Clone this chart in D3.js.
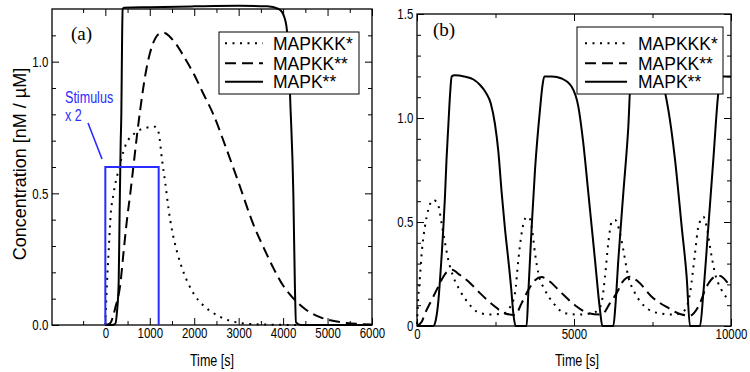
<!DOCTYPE html>
<html>
<head>
<meta charset="utf-8">
<script src="https://cdn.jsdelivr.net/npm/d3@7"></script>
<style>
  body { margin: 0; background: #fff; }
  svg { display: block; }
  .tick text { font-family: 'Liberation Sans', Arial, sans-serif; font-size: 15.5px; fill: #000; }
  .tick line { stroke: #000; stroke-width: 1; }
</style>
</head>
<body>
<svg id="chart" width="750" height="372"></svg>
<script>
'use strict'

const seriesNames = ['MAPKKK*', 'MAPKK**', 'MAPK**']

// panel (a): transient stimulus x 2, time [s] vs concentration
const aMapkkk = [[0,0],[37,0.16],[75,0.28],[112,0.40],[187,0.50],[300,0.59],[450,0.68],[675,0.73],[900,0.748],[1120,0.753],
  [1200,0.73],[1273,0.63],[1348,0.54],[1423,0.44],[1500,0.36],[1610,0.28],[1760,0.20],[1985,0.12],[2200,0.075],[2435,0.045],
  [2700,0.022],[3030,0.008],[3500,0.002],[4500,0],[6000,0]]
const aMapkk = [[0,0],[100,0.005],[225,0.066],[337,0.155],[412,0.28],[487,0.40],[562,0.50],[637,0.61],[712,0.72],[787,0.82],
  [900,0.95],[1000,1.03],[1100,1.08],[1200,1.105],[1311,1.11],[1450,1.095],[1600,1.065],[1800,1.01],[2000,0.95],[2200,0.88],
  [2430,0.80],[2700,0.68],[3000,0.54],[3335,0.38],[3600,0.28],[3785,0.215],[4000,0.15],[4235,0.10],[4500,0.06],[4830,0.03],
  [5430,0.008],[6000,0.002]]
const aMapk = [[0,0],[150,0],[225,0.005],[262,0.05],[300,0.16],[322,0.43],[345,0.69],[360,0.8],[378,1.1],[390,1.2],
  [420,1.205],[1000,1.207],[2000,1.21],[3000,1.212],[3640,1.21],[3900,1.2],[3970,1.19],[4070,1.14],[4130,1.0],[4160,0.855],
  [4230,0.5],[4265,0.15],[4290,0.01],[4400,0],[6000,0]]
const stimulus = [[0,0],[0,0.6],[1200,0.6],[1200,0]]
const aXMajor = [0,1000,2000,3000,4000,5000,6000]
const aXMinor = [-500,500,1500,2500,3500,4500,5500]
const aYMajor = [0,0.5,1.0]
const aYMinor = [0.1,0.2,0.3,0.4,0.6,0.7,0.8,0.9,1.1]

// panel (b): sustained stimulus, oscillations
const bMapkkk = [[0,0.01],[42,0.14],[96,0.24],[149,0.35],[255,0.48],[361,0.56],[520,0.606],[600,0.6],[680,0.58],[786,0.49],
  [892,0.40],[998,0.317],[1157,0.237],[1369,0.17],[1635,0.11],[1900,0.07],[2325,0.055],[2750,0.06],[2962,0.09],[3121,0.158],
  [3227,0.317],[3333,0.447],[3493,0.525],[3580,0.52],[3652,0.477],[3758,0.35],[3864,0.254],[4076,0.173],[4342,0.11],[4713,0.062],
  [5138,0.055],[5563,0.062],[5775,0.077],[5900,0.13],[5987,0.237],[6093,0.40],[6200,0.5],[6306,0.51],[6465,0.447],[6571,0.365],
  [6730,0.237],[6943,0.158],[7261,0.093],[7686,0.062],[8217,0.055],[8535,0.077],[8694,0.158],[8854,0.35],[8960,0.477],[9119,0.525],
  [9225,0.477],[9331,0.38],[9490,0.254],[9700,0.173],[9968,0.12]]
const bMapkk = [[0,0],[150,0.02],[255,0.06],[467,0.125],[680,0.19],[838,0.237],[950,0.26],[1104,0.27],[1369,0.245],[1688,0.207],
  [2006,0.158],[2431,0.10],[2803,0.06],[3121,0.053],[3333,0.11],[3545,0.173],[3758,0.22],[3970,0.235],[4236,0.213],[4607,0.158],
  [5032,0.10],[5456,0.062],[5881,0.055],[6146,0.11],[6411,0.173],[6518,0.207],[6783,0.237],[7048,0.213],[7474,0.141],[8003,0.087],
  [8430,0.055],[8694,0.05],[8960,0.093],[9225,0.19],[9490,0.237],[9650,0.24],[9862,0.213],[9968,0.19]]
const bMapk = [[0,0],[520,0],[600,0.03],[680,0.12],[732,0.22],[790,0.35],[838,0.47],[890,0.62],[940,0.8],[1000,0.97],
  [1060,1.13],[1104,1.2],[1200,1.205],[1500,1.2],[1800,1.185],[2000,1.16],[2200,1.12],[2350,1.07],[2484,0.97],[2590,0.84],
  [2697,0.64],[2800,0.47],[2909,0.317],[3000,0.18],[3068,0.06],[3142,0],[3490,0],[3545,0.158],[3652,0.477],[3758,0.75],
  [3917,1.04],[4000,1.16],[4055,1.2],[4300,1.2],[4607,1.19],[4926,1.15],[5138,1.055],[5297,0.878],[5456,0.64],[5669,0.317],
  [5828,0.077],[5902,0],[6252,0],[6320,0.1],[6411,0.317],[6571,0.64],[6730,0.958],[6815,1.2],[7100,1.2],[7500,1.19],
  [7700,1.17],[7845,1.15],[8003,1.04],[8217,0.80],[8430,0.477],[8588,0.237],[8694,0],[9013,0],[9119,0.158],[9278,0.477],
  [9437,0.80],[9596,1.12],[9682,1.2],[10000,1.2]]
const bXMajor = [0,5000,10000]
const bXMinor = [2500,7500]
const bYMajor = [0,0.5,1.0,1.5]
const bYMinor = [0.1,0.2,0.3,0.4,0.6,0.7,0.8,0.9,1.1,1.2,1.3,1.4]

const dashes = ['2,5.5', '11,6', null]
const sansFont = "'Liberation Sans', Arial, sans-serif"
const narrow = 0.74  // condensed look of the original labels

const svg = d3.select('#chart')

// text squeezed horizontally around its anchor point
const narrowText = function(parent, x, y, size, str, color, anchor) {
  return parent.append('text')
    .attr('transform', `translate(${x},${y}) scale(${narrow},1)`)
    .attr('text-anchor', anchor || 'start')
    .attr('font-family', sansFont).attr('font-size', size)
    .attr('fill', color || '#000')
    .text(str)
}

const drawPanel = function(p) {
  const g = svg.append('g')
  const x = d3.scaleLinear().domain(p.xDomain).range([p.left, p.right])
  const y = d3.scaleLinear().domain(p.yDomain).range([p.bottom, p.top])
  const noText = () => ''

  const addAxis = function(axis, tr, vals, size, fmt, pad) {
    g.append('g')
      .attr('transform', tr)
      .call(axis.tickValues(vals).tickSize(size).tickPadding(pad || 3).tickFormat(fmt))
      .call(s => s.select('.domain').remove())
      .call(s => s.selectAll('.tick text').attr('transform', `scale(${narrow},1)`))
  }
  // inward ticks on all four sides
  addAxis(d3.axisBottom(x), `translate(0,${p.bottom})`, p.xMajor, -7, p.xFmt, 1.5)
  addAxis(d3.axisBottom(x), `translate(0,${p.bottom})`, p.xMinor, -4, noText)
  addAxis(d3.axisTop(x), `translate(0,${p.top})`, p.xMajor, -7, noText)
  addAxis(d3.axisTop(x), `translate(0,${p.top})`, p.xMinor, -4, noText)
  addAxis(d3.axisLeft(y), `translate(${p.left},0)`, p.yMajor, -7, p.yFmt, 5)
  addAxis(d3.axisLeft(y), `translate(${p.left},0)`, p.yMinor, -4, noText)
  addAxis(d3.axisRight(y), `translate(${p.right},0)`, p.yMajor, -7, noText)
  addAxis(d3.axisRight(y), `translate(${p.right},0)`, p.yMinor, -4, noText)

  g.append('rect')
    .attr('x', p.left).attr('y', p.top)
    .attr('width', p.right - p.left).attr('height', p.bottom - p.top)
    .attr('fill', 'none').attr('stroke', '#000').attr('stroke-width', 1.3)

  const line = d3.line()
    .x(d => x(d[0]))
    .y(d => y(d[1]))
    .curve(d3.curveMonotoneX)

  p.series.forEach(function(s, i) {
    g.append('path')
      .attr('d', line(s))
      .attr('fill', 'none')
      .attr('stroke', '#000')
      .attr('stroke-width', 2)
      .attr('stroke-dasharray', dashes[i])
  })

  if (p.stimulus) {
    g.append('path')
      .attr('d', d3.line().x(d => x(d[0])).y(d => y(d[1]))(p.stimulus))
      .attr('fill', 'none').attr('stroke', '#2b2bff').attr('stroke-width', 2)
    g.append('line')
      .attr('x1', 88).attr('y1', 123).attr('x2', 102).attr('y2', 159)
      .attr('stroke', '#2b2bff').attr('stroke-width', 1.6)
    narrowText(g, 65, 103, 17, 'Stimulus', '#2b2bff')
    narrowText(g, 65, 121, 17, 'x 2', '#2b2bff')
  }

  // legend
  const L = p.legend
  g.append('rect')
    .attr('x', L.x).attr('y', L.y).attr('width', L.w).attr('height', L.h)
    .attr('fill', '#fff').attr('stroke', '#000').attr('stroke-width', 1)
  const rowsY = [43.3, 63.3, 81.7]
  seriesNames.forEach(function(name, i) {
    g.append('line')
      .attr('x1', L.lx1).attr('x2', L.lx2).attr('y1', rowsY[i]).attr('y2', rowsY[i])
      .attr('stroke', '#000').attr('stroke-width', 2)
      .attr('stroke-dasharray', dashes[i])
    g.append('text')
      .attr('x', L.tx).attr('y', rowsY[i] + 6.5)
      .attr('font-family', sansFont).attr('font-size', 17.5)
      .text(name)
  })

  g.append('text')
    .attr('x', p.tag[0]).attr('y', p.tag[1])
    .attr('font-family', "'Liberation Serif', 'Times New Roman', serif")
    .attr('font-size', 19)
    .text(p.tag[2])

  narrowText(g, (p.left + p.right) / 2 + p.titleShift, 366, 17, 'Time [s]', '#000', 'middle')
}

drawPanel({
  left: 52, right: 372, top: 9, bottom: 325,
  xDomain: [-1200, 6000], yDomain: [0, 1.2],
  xMajor: aXMajor, xMinor: aXMinor, yMajor: aYMajor, yMinor: aYMinor,
  xFmt: d3.format('d'), yFmt: d3.format('.1f'),
  series: [aMapkkk, aMapkk, aMapk],
  stimulus: stimulus,
  legend: { x: 219, y: 32, w: 140, h: 62, lx1: 225, lx2: 263, tx: 273 },
  tag: [71, 40, '(a)'],
  titleShift: 0
})

drawPanel({
  left: 417, right: 731, top: 14, bottom: 326,
  xDomain: [0, 10000], yDomain: [0, 1.5],
  xMajor: bXMajor, xMinor: bXMinor, yMajor: bYMajor, yMinor: bYMinor,
  xFmt: d3.format('d'), yFmt: d => d === 0 ? '0' : d3.format('.1f')(d),
  series: [bMapkkk, bMapkk, bMapk],
  stimulus: null,
  legend: { x: 577, y: 27, w: 146, h: 67, lx1: 585, lx2: 627, tx: 638 },
  tag: [433, 36, '(b)'],
  titleShift: 3
})

svg.append('text')
  .attr('transform', 'translate(26,164) rotate(-90)')
  .attr('text-anchor', 'middle')
  .attr('font-family', sansFont).attr('font-size', 18)
  .text('Concentration [nM / \u00b5M]')
</script>
</body>
</html>
